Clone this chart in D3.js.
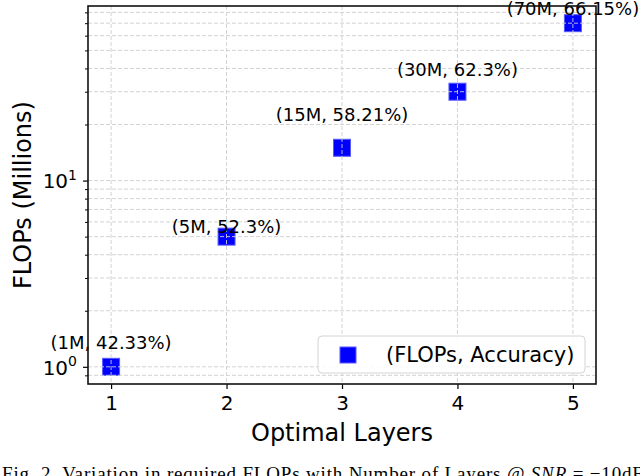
<!DOCTYPE html>
<html>
<head>
<meta charset="utf-8">
<script src="https://cdn.jsdelivr.net/npm/d3@7/dist/d3.min.js"></script>
<style>
  html, body { margin: 0; padding: 0; background: #fff; }
  svg { display: block; }
</style>
</head>
<body>
<svg id="chart" width="640" height="476"></svg>
<script>
// ---- data ----
const layers = [1, 2, 3, 4, 5];
const flops = [1, 5, 15, 30, 70];            // millions
const accuracy = ["42.33%", "52.3%", "58.21%", "62.3%", "66.15%"];
const labels = ["(1M, 42.33%)", "(5M, 52.3%)", "(15M, 58.21%)", "(30M, 62.3%)", "(70M, 66.15%)"];
const labelY = [1.35, 5.66, 22.6, 39.4, 84.3];   // annotation anchor (data units)
const xTicks = [1, 2, 3, 4, 5];
const yMajor = [1, 10];
const yMinor = [0.9, 2, 3, 4, 5, 6, 7, 8, 9, 20, 30, 40, 50, 60, 70, 80];
const seriesName = "(FLOPs, Accuracy)";
const xTitle = "Optimal Layers";
const yTitle = "FLOPs (Millions)";

// ---- layout ----
const svg = d3.select("#chart");
const L = 88, R = 596, T = 6, B = 384;
const font = "'DejaVu Sans', sans-serif";

const x = d3.scaleLinear().domain([0.8, 5.2]).range([L, R]);
const lmin = Math.log10(d3.min(flops)), lmax = Math.log10(d3.max(flops));
const m = (lmax - lmin) * 0.05;
const y = d3.scaleLog().domain([Math.pow(10, lmin - m), Math.pow(10, lmax + m)]).range([B, T]);

svg.append("rect").attr("x", 0).attr("y", 0).attr("width", 640).attr("height", 476).attr("fill", "#fff");

// markers (grid drawn on top)
const s = 17;
svg.append("g").selectAll("rect").data(layers).join("rect")
  .attr("x", (d) => x(d) - s / 2)
  .attr("y", (d, i) => y(flops[i]) - s / 2)
  .attr("width", s).attr("height", s)
  .attr("fill", "#0000ff")
  .attr("stroke", "#5a5aff").attr("stroke-width", 1);

// grid
const grid = svg.append("g").attr("stroke", "#cfcfcf").attr("stroke-width", 1)
  .attr("stroke-dasharray", "4,2").attr("fill", "none").attr("opacity", 0.9);
grid.selectAll("line.v").data(xTicks).join("line").attr("class", "v")
  .attr("x1", d => x(d)).attr("x2", d => x(d)).attr("y1", T).attr("y2", B);
grid.selectAll("line.h").data(yMajor.concat(yMinor)).join("line").attr("class", "h")
  .attr("x1", L).attr("x2", R).attr("y1", d => y(d)).attr("y2", d => y(d));

// annotations
svg.append("g").selectAll("text").data(labels).join("text")
  .attr("x", (d, i) => x(layers[i]))
  .attr("y", (d, i) => y(labelY[i]))
  .attr("text-anchor", "middle").attr("dominant-baseline", "central")
  .attr("font-family", font).attr("font-size", 18).attr("fill", "#000")
  .text(d => d);

// x axis
const xAxis = d3.axisBottom(x).tickValues(xTicks).tickFormat(d3.format("d")).tickSize(5).tickPadding(7);
const gx = svg.append("g").attr("transform", `translate(0,${B})`).call(xAxis);
gx.select(".domain").remove();
gx.selectAll(".tick line").attr("stroke", "#000").attr("stroke-width", 1.2);
gx.selectAll(".tick text").attr("font-family", font).attr("font-size", 20).attr("fill", "#000");

// y axis major
const yAxis = d3.axisLeft(y).tickValues(yMajor).tickFormat(() => "").tickSize(5);
const gy = svg.append("g").attr("transform", `translate(${L},0)`).call(yAxis);
gy.select(".domain").remove();
gy.selectAll(".tick line").attr("stroke", "#000").attr("stroke-width", 1.2);
gy.selectAll(".tick").each(function (d) {
  const t = d3.select(this).append("text")
    .attr("x", -11).attr("y", 0).attr("dy", "0.36em")
    .attr("text-anchor", "end").attr("fill", "#000")
    .attr("font-family", font).attr("font-size", 20);
  t.append("tspan").text("10");
  t.append("tspan").attr("font-size", 14).attr("dy", "-0.6em").text(Math.round(Math.log10(d)));
});
// y axis minor
const yAxisMinor = d3.axisLeft(y).tickValues(yMinor).tickFormat(() => "").tickSize(3);
const gym = svg.append("g").attr("transform", `translate(${L},0)`).call(yAxisMinor);
gym.select(".domain").remove();
gym.selectAll(".tick line").attr("stroke", "#000").attr("stroke-width", 1);

// frame
svg.append("rect").attr("x", L).attr("y", T).attr("width", R - L).attr("height", B - T)
  .attr("fill", "none").attr("stroke", "#111").attr("stroke-width", 1.6);

// axis titles
svg.append("text").attr("x", (L + R) / 2).attr("y", 433).attr("dominant-baseline", "central")
  .attr("text-anchor", "middle").attr("font-family", font).attr("font-size", 24).text(xTitle);
svg.append("text").attr("transform", `translate(23,${(T + B) / 2}) rotate(-90)`)
  .attr("dominant-baseline", "central")
  .attr("text-anchor", "middle").attr("font-family", font).attr("font-size", 24).text(yTitle);

// legend
const lg = svg.append("g");
lg.append("rect").attr("x", 318).attr("y", 336).attr("width", 267).attr("height", 37).attr("rx", 4)
  .attr("fill", "#fff").attr("fill-opacity", 0.85).attr("stroke", "#d4d4d4").attr("stroke-width", 1);
lg.append("rect").attr("x", 340).attr("y", 347).attr("width", 16).attr("height", 16)
  .attr("fill", "#0000ff").attr("stroke", "#5a5aff").attr("stroke-width", 1);
lg.append("text").attr("x", 386).attr("y", 355).attr("dominant-baseline", "central")
  .attr("font-family", font).attr("font-size", 21).text(seriesName);

// caption
const cap = svg.append("text").attr("x", 2).attr("y", 480)
  .attr("font-family", "'Liberation Serif', 'Times New Roman', serif").attr("font-size", 19)
  .attr("textLength", 643).attr("lengthAdjust", "spacing");
cap.append("tspan").text("Fig. 2.  Variation in required FLOPs with Number of Layers @ ");
cap.append("tspan").attr("font-style", "italic").text("SNR");
cap.append("tspan").text(" = −10dB");
</script>
</body>
</html>
